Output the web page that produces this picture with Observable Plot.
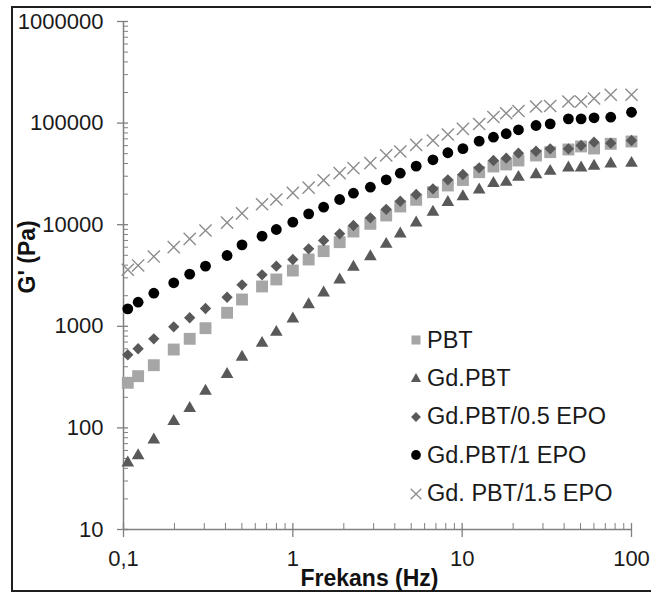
<!DOCTYPE html>
<html><head><meta charset="utf-8">
<script src="https://cdn.jsdelivr.net/npm/d3@7"></script>
<script src="https://cdn.jsdelivr.net/npm/@observablehq/plot@0.6"></script>
<style>
html,body{margin:0;padding:0;background:#fff;overflow:hidden;}
#wrap{position:relative;width:651px;height:596px;font-family:"Liberation Sans",Arial,sans-serif;overflow:hidden;}
#frame{position:absolute;left:11px;top:6px;width:700px;height:582px;border:2px solid #1e1e1e;border-right:none;}
#chart{position:absolute;left:0;top:0;}
#legend{position:absolute;left:405px;top:321px;}
.row{display:flex;align-items:center;height:38.4px;font-size:23.5px;color:#1a1a1a;white-space:nowrap;}
.row svg{width:22px;height:22px;flex:none;}
</style></head><body>
<div id="wrap"><div id="frame"></div><div id="chart"></div><div id="legend"></div></div>
<script>
// Frequencies (Hz)
const freq = [0.106,0.122,0.151,0.198,0.246,0.305,0.409,0.501,0.658,0.799,1.0,1.24,1.52,1.89,2.28,2.87,3.56,4.31,5.35,6.72,8.23,10.1,12.6,15.3,18.2,21.5,27.3,33.1,42.4,50.4,60.1,75.4,100];
// G' (Pa) per series
const pbt     = [278,323,414,591,753,958,1358,1836,2466,2890,3540,4544,5490,6730,8570,10200,12320,15110,17580,20890,24320,27540,32870,37400,39170,42850,47970,51750,54990,58880,56230,62550,65900];
const gdPbt   = [45.3,53.5,76.3,116,156,230,336,497,682,875,1186,1640,2138,2870,3820,4864,6430,8130,10440,13280,16640,18950,22030,25600,26190,29350,31190,33620,36310,36310,37670,39720,40300];
const gdPbt05 = [524,601,753,989,1213,1497,1933,2560,3212,3907,4544,5790,6990,8130,9820,11690,14170,17010,19820,22550,27670,31190,36310,42850,45150,50570,52870,55850,55850,60220,64900,63430,67420];
const gdPbt1  = [1486,1726,2117,2681,3258,3907,4977,6340,7710,8970,10590,12800,14870,17700,20420,23390,27670,32130,37670,43550,51050,56000,66370,72620,78520,85910,94700,98400,110200,110200,112800,114300,127900];
const gdPbt15 = [3600,3970,4860,6010,7260,8770,10500,12950,15900,17700,20600,23200,27400,32130,35980,40300,48200,52510,61140,67420,77250,87860,98000,114800,125000,131500,145600,147300,163200,163200,174600,190000,190000];

const seriesNames = ["PBT","Gd.PBT","Gd.PBT/0.5 EPO","Gd.PBT/1 EPO","Gd. PBT/1.5 EPO"];
const seriesValues = [pbt, gdPbt, gdPbt05, gdPbt1, gdPbt15];

const yTicks = [10,100,1000,10000,100000,1000000];
const xTicks = [0.1,1,10,100];
const xTickLabels = ["0,1","1","10","100"];
const minorMult = [2,3,4,5,6,7,8,9];
const yMinor = [10,100,1000,10000,100000].flatMap(b => minorMult.map(m => m*b));
const xMinor = [0.1,1,10].flatMap(b => minorMult.map(m => +(m*b).toPrecision(3)));

const xLabel = "Frekans (Hz)";
const yLabel = "G' (Pa)";

// styles
const axisColor = "#808080";
const textColor = "#1a1a1a";
const markStyles = [
  {symbol: "square",   r: 6.7, fill: "#a6a6a6"},
  {symbol: "triangle", r: 4.7, fill: "#595959"},
  {symbol: "diamond2", r: 5.1, fill: "#595959"},
  {symbol: "circle",   r: 5.4, fill: "#000000"},
  {symbol: "times",    r: 5.6, stroke: "#8c8c8c", strokeWidth: 1.4, fill: "none"}
];
const legendSymbols = [
  {type: d3.symbolSquare,   size: 81, fill: "#a6a6a6"},
  {type: d3.symbolTriangle, size: 45, fill: "#595959"},
  {type: d3.symbolDiamond2, size: 62, fill: "#595959"},
  {type: d3.symbolCircle,   size: 75, fill: "#000000"},
  {type: d3.symbolTimes,    size: 75, stroke: "#8c8c8c", strokeWidth: 1.3, fill: "none"}
];

const rows = seriesValues.map(vals => freq.map((f, i) => ({f, v: vals[i]})));

const chart = Plot.plot({
  width: 651, height: 596,
  marginLeft: 123, marginRight: 20, marginTop: 21, marginBottom: 67,
  style: {fontFamily: "'Liberation Sans', Arial, sans-serif", background: "transparent", color: textColor},
  x: {type: "log", domain: [0.1, 100]},
  y: {type: "log", domain: [10, 1000000]},
  marks: [
    // axis lines
    Plot.ruleX([0.1], {stroke: axisColor, strokeWidth: 1.5}),
    Plot.ruleY([10], {stroke: axisColor, strokeWidth: 1.5}),
    // y ticks
    Plot.ruleY(yTicks, {y: d => d, x1: 0.1, x2: 0.1, insetLeft: -6, insetRight: -5, stroke: axisColor, strokeWidth: 1.3}),
    Plot.ruleY(yMinor, {y: d => d, x1: 0.1, x2: 0.1, insetLeft: 0, insetRight: -5, stroke: axisColor, strokeWidth: 1}),
    // x ticks
    Plot.ruleX(xTicks, {x: d => d, y1: 10, y2: 10, insetTop: -6, insetBottom: -8, stroke: axisColor, strokeWidth: 1.3}),
    Plot.ruleX(xMinor, {x: d => d, y1: 10, y2: 10, insetTop: -6, insetBottom: 0, stroke: axisColor, strokeWidth: 1}),
    Plot.axisY({ticks: yTicks, tickSize: 0, tickPadding: 20, fontSize: 22, fill: textColor, tickFormat: d => String(d), label: null}),
    Plot.axisX({ticks: xTicks, tickSize: 0, tickPadding: 21, fontSize: 22, fill: textColor, tickFormat: d => xTickLabels[xTicks.indexOf(d)], label: null}),
    Plot.text([xLabel], {text: d => d, frameAnchor: "bottom", lineAnchor: "bottom", dy: 56, dx: -8, fontSize: 23, fontWeight: "bold", fill: "#111"}),
    Plot.text([yLabel], {text: d => d, frameAnchor: "left", rotate: -90, dx: -96, dy: 18, fontSize: 23, fontWeight: "bold", fill: "#111"}),
    ...rows.map((data, k) => Plot.dot(data, {x: "f", y: "v", ...markStyles[k]}))
  ]
});
document.getElementById("chart").appendChild(chart);

// legend
const legend = d3.select("#legend");
seriesNames.forEach((name, k) => {
  const row = legend.append("div").attr("class", "row");
  const s = legendSymbols[k];
  const svg = row.append("svg").attr("viewBox", "-11 -11 22 22");
  svg.append("path")
    .attr("d", d3.symbol(s.type, s.size)())
    .attr("fill", s.fill)
    .attr("stroke", s.stroke || "none")
    .attr("stroke-width", s.strokeWidth || 0);
  row.append("span").text(name);
});
</script></body></html>
